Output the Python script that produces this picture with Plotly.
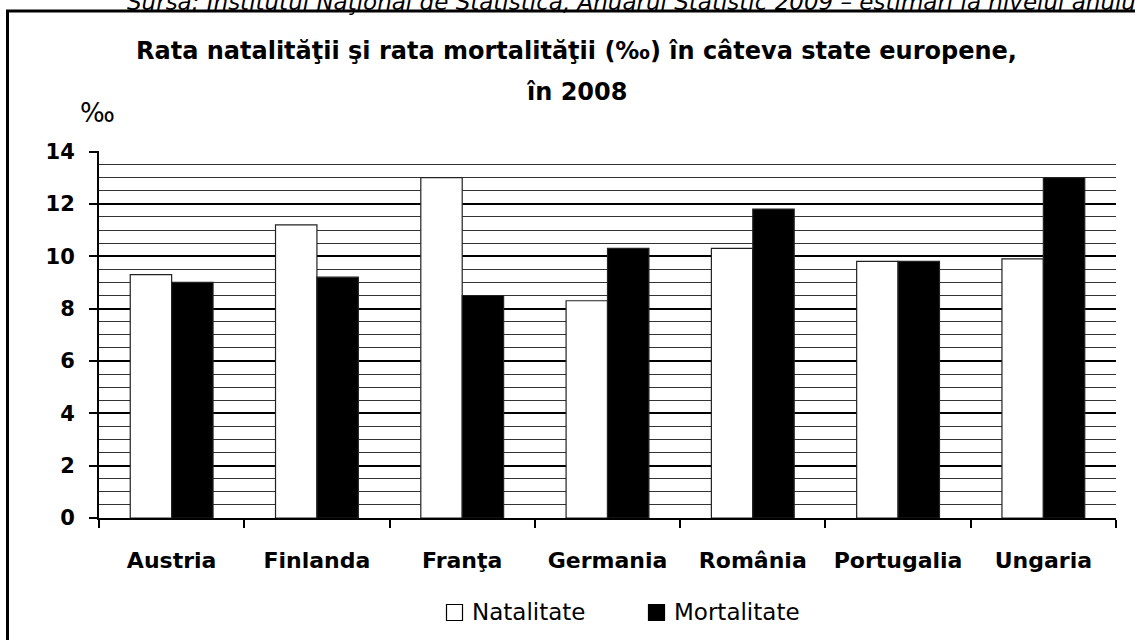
import plotly.graph_objects as go

# ---- data ----
tari = ["Austria", "Finlanda", "Franţa", "Germania", "România", "Portugalia", "Ungaria"]
natalitate = [9.3, 11.2, 13.0, 8.3, 10.3, 9.8, 9.9]
mortalitate = [9.0, 9.2, 8.5, 10.3, 11.8, 9.8, 13.0]
y_ticks = [0, 2, 4, 6, 8, 10, 12, 14]
titlu_1 = "Rata natalităţii şi rata mortalităţii (‰) în câteva state europene,"
titlu_2 = "în 2008"
sursa = "Sursa: Institutul Naţional de Statistică, Anuarul Statistic 2009 – estimări la nivelul anului"

W, H = 1135, 640
L, R, T, B = 99, 1116, 151, 518


def px(x):
    return (x - L) / (R - L)


def py(y):
    return (B - y) / (B - T)


BOLD = "DejaVu Sans"

fig = go.Figure()
fig.add_trace(go.Bar(
    x=tari, y=natalitate, name="Natalitate",
    marker=dict(color="white", line=dict(color="#222", width=1.2)),
    showlegend=False,
))
fig.add_trace(go.Bar(
    x=tari, y=mortalitate, name="Mortalitate",
    marker=dict(color="black", line=dict(color="#222", width=1.2)),
    showlegend=False,
))

fig.update_layout(
    width=W, height=H,
    margin=dict(l=L, r=W - R, t=T, b=H - B, pad=0),
    paper_bgcolor="white", plot_bgcolor="white",
    barmode="group", bargap=0.43, bargroupgap=0,
    font=dict(family=BOLD, color="black"),
)
fig.update_xaxes(
    showline=True, linecolor="black", linewidth=2,
    ticks="outside", tickson="boundaries", ticklen=8, tickwidth=2, tickcolor="black",
    tickfont=dict(family=BOLD, size=22, color="black", weight="bold"),
    ticklabelstandoff=22,
    showgrid=False,
)
fig.update_yaxes(
    range=[0, 14.02], tickvals=y_ticks, ticktext=[str(v) for v in y_ticks],
    showline=True, linecolor="black", linewidth=2,
    ticks="outside", ticklen=8, tickwidth=2, tickcolor="black",
    tickfont=dict(family=BOLD, size=21, color="black", weight="bold"),
    ticklabelstandoff=10,
    showgrid=True, gridcolor="black", gridwidth=2,
    zeroline=False,
    minor=dict(dtick=0.5, showgrid=True, gridcolor="#333", gridwidth=1, ticks=""),
)

ann = []
# source line, partially cut off at the top (as in the reference)
ann.append(dict(text=sursa, xref="paper", yref="paper", x=px(125), y=py(2),
                xanchor="left", yanchor="middle", showarrow=False,
                font=dict(family="DejaVu Sans", size=23, color="black", style="italic")))
ann.append(dict(text=titlu_1, xref="paper", yref="paper", x=px(576), y=py(51),
                xanchor="center", yanchor="middle", showarrow=False,
                font=dict(family=BOLD, size=24, color="black", weight="bold")))
ann.append(dict(text=titlu_2, xref="paper", yref="paper", x=px(576), y=py(92),
                xanchor="center", yanchor="middle", showarrow=False,
                font=dict(family=BOLD, size=24, color="black", weight="bold")))
ann.append(dict(text="‰", xref="paper", yref="paper", x=px(97), y=py(113),
                xanchor="center", yanchor="middle", showarrow=False,
                font=dict(family="DejaVu Sans", size=26, color="black")))
# legend texts
ann.append(dict(text="Natalitate", xref="paper", yref="paper", x=px(470), y=py(612),
                xanchor="left", yanchor="middle", showarrow=False,
                font=dict(family="DejaVu Sans", size=23, color="black")))
ann.append(dict(text="Mortalitate", xref="paper", yref="paper", x=px(672), y=py(612),
                xanchor="left", yanchor="middle", showarrow=False,
                font=dict(family="DejaVu Sans", size=23, color="black")))
fig.update_layout(annotations=ann)

shapes = []
# outer frame
shapes.append(dict(type="rect", xref="paper", yref="paper",
                   x0=px(7.5), x1=px(1300), y0=py(11), y1=py(800),
                   line=dict(color="black", width=3), fillcolor="rgba(0,0,0,0)", layer="above"))
# legend swatches
shapes.append(dict(type="rect", xref="paper", yref="paper",
                   x0=px(446.5), x1=px(462.5), y0=py(604.5), y1=py(620.5),
                   line=dict(color="black", width=1.2), fillcolor="white"))
shapes.append(dict(type="rect", xref="paper", yref="paper",
                   x0=px(648.5), x1=px(664.5), y0=py(604.5), y1=py(620.5),
                   line=dict(color="black", width=1.2), fillcolor="black"))
fig.update_layout(shapes=shapes)

fig.write_html("out.html", config={"displayModeBar": False},
               post_script="document.body.style.margin='0px';")
